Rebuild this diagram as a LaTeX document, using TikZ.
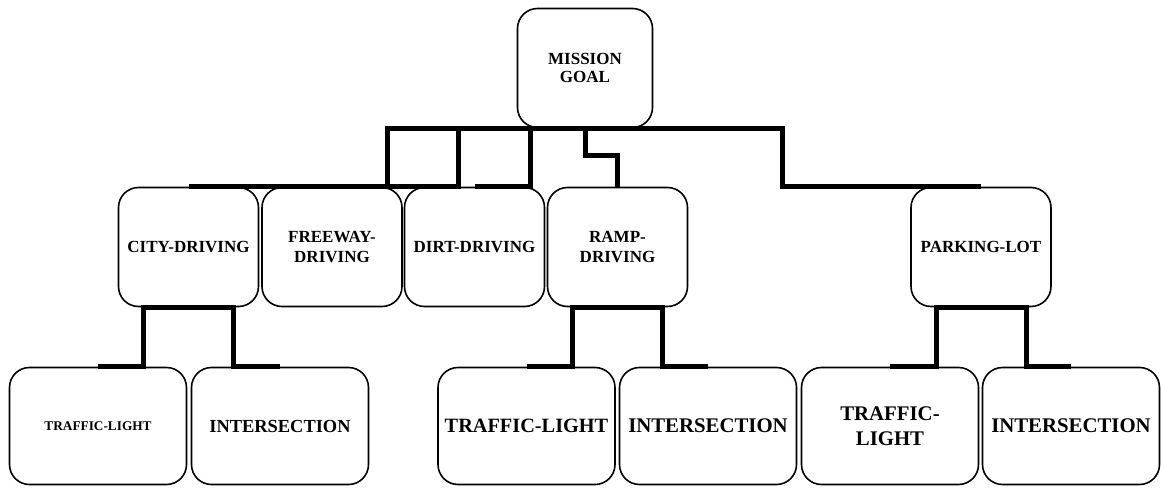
\documentclass[tikz,border=0pt]{standalone}
\usepackage{fontspec}
\setmainfont{Liberation Serif}
\usepackage{tikz}
\usetikzlibrary{calc}

\begin{document}
\begin{tikzpicture}[x=1pt,y=-1pt,
  box/.style={draw,line width=1.6pt,rounded corners=20pt,inner sep=0pt,align=center,
    minimum width=140pt,minimum height=119pt,font=\bfseries\fontsize{17}{20}\selectfont},
  leaf/.style={box,minimum width=177pt,minimum height=117pt},
  link/.style={line width=5pt,line join=miter}]
\useasboundingbox (0,0) rectangle (1161,487);
\node[box,minimum width=135pt,font=\bfseries\fontsize{17}{18.5}\selectfont] (goal) at (585,68) {MISSION\\GOAL};
\foreach \n/\x/\lab in {city/188.5/CITY-DRIVING,freeway/332/{FREEWAY-\\DRIVING},dirt/474.5/DIRT-DRIVING,ramp/617.5/{RAMP-\\DRIVING},park/981/PARKING-LOT}{\node[box] (\n) at (\x,247) {\lab};}
\foreach \n/\x/\fs/\lab in {tlA/98/13.3/TRAFFIC-LIGHT,isA/280/18.4/INTERSECTION,tlB/526.5/20.3/TRAFFIC-LIGHT,isB/708/20.8/INTERSECTION,tlC/890/20.8/{TRAFFIC-\\LIGHT},isC/1071/20.8/INTERSECTION}{\node[leaf,font=\bfseries\fontsize{\fs}{24.5}\selectfont] (\n) at (\x,426) {\lab};}
% mission goal to the driving modes
\draw[link] (city.north) -| ($(goal.south)+(-197.5,0)$) -- (goal.south);
\draw[link] (freeway.north) -| ($(goal.south)+(-126.5,0)$) -- (goal.south);
\draw[link] (dirt.north) -| ($(goal.south)+(-55,0)$) -- (goal.south);
\draw[link] (goal.south) -- ++(0,27) -| (ramp.north);
\draw[link] (goal.south) -- ($(goal.south)+(197.5,0)$) |- (park.north);
% modes to their sub-tasks
\foreach \p/\a/\b in {city/tlA/isA,ramp/tlB/isB,park/tlC/isC}{\draw[link] (\a.north) -| ($(\p.south)+(-45,0)$) -- ($(\p.south)+(45,0)$) |- (\b.north);}
\end{tikzpicture}
\end{document}
